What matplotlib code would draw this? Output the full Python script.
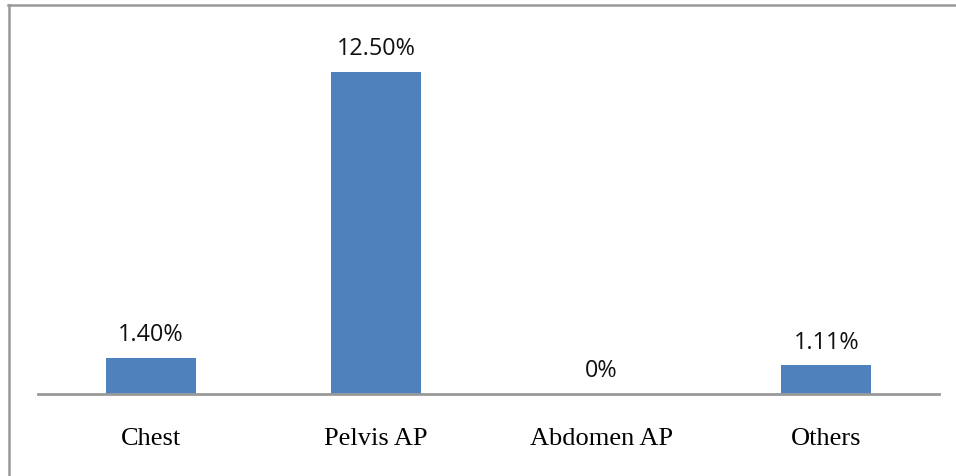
import matplotlib.pyplot as plt
from matplotlib.lines import Line2D

# --- Data ---
categories = ['Chest', 'Pelvis AP', 'Abdomen AP', 'Others']
values = [1.40, 12.50, 0.0, 1.11]
labels = ['1.40%', '12.50%', '0%', '1.11%']

W, H = 956, 477
fig = plt.figure(figsize=(W / 100, H / 100), dpi=100)

# axes placed so that baseline sits at y=395px, spanning x 38..939
y_max = 14.0
px_per_unit = 25.76
ax_left, ax_right = 38, 939
ax_bottom = 395
ax_top = ax_bottom - y_max * px_per_unit
ax = fig.add_axes([ax_left / W, (H - ax_bottom) / H,
                   (ax_right - ax_left) / W, (ax_bottom - ax_top) / H])

x = range(len(categories))
ax.bar(x, values, width=0.4, color='#4f81bd')
ax.set_xlim(-0.5, len(categories) - 0.5)
ax.set_ylim(0, y_max)

for xi, v, lab in zip(x, values, labels):
    ax.annotate(lab, (xi, v), textcoords='offset points', xytext=(0, 17),
                ha='center', va='center', fontsize=16.8, family='Open Sans',
                color='#111111')

for s in ['top', 'right', 'left']:
    ax.spines[s].set_visible(False)
ax.spines['bottom'].set_color('#999999')
ax.spines['bottom'].set_linewidth(2)
ax.set_yticks([])
ax.set_xticks(list(x))
ax.set_xticklabels(categories, family='Liberation Serif', fontsize=19)
ax.tick_params(axis='x', length=0, pad=24)

# outer frame lines (cropped text box)
fig.add_artist(Line2D([8.5 / W, 8.5 / W], [0, 1 - 5.5 / H],
                      transform=fig.transFigure, color='#999999', lw=1.8))
fig.add_artist(Line2D([8 / W, 1], [1 - 5.5 / H, 1 - 5.5 / H],
                      transform=fig.transFigure, color='#999999', lw=1.8))

fig.savefig('out.png', dpi=100)
